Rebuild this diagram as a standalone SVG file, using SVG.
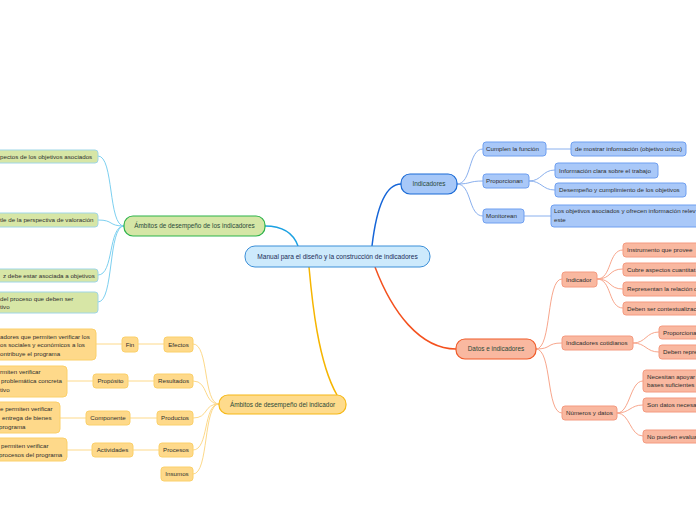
<svg xmlns="http://www.w3.org/2000/svg" width="696" height="520" viewBox="0 0 696 520">
<style>
text{font-family:"Liberation Sans",Arial,sans-serif;font-size:6.2px;fill:#2e2e2e}
.main{font-size:6.4px;fill:#2b4a3a}
.ctr{font-size:6.6px;fill:#1c2c58}
.c path{fill:none}
.cb{stroke:#1565d8;stroke-width:1.5}
.cs{stroke:#1ba1e2;stroke-width:1.5}
.co{stroke:#f6b500;stroke-width:1.5}
.cr{stroke:#f4511e;stroke-width:1.5}
.lb{stroke:#8ab0ee;stroke-width:1}
.ls{stroke:#7dd0f0;stroke-width:1}
.lo{stroke:#fdd98a;stroke-width:1}
.lr{stroke:#f8a68c;stroke-width:1}
.nb{fill:#a9c8f8;stroke:#6f9ff0;stroke-width:1}
.ng{fill:#d7e6a6;stroke:#9fd6e6;stroke-width:1}
.no{fill:#fed98a;stroke:#fbd06a;stroke-width:1}
.nr{fill:#f9b8a0;stroke:#f49a80;stroke-width:1}
</style>
<rect width="696" height="520" fill="#ffffff"/>
<g class="c" id="connectors">
<path class="cs" d="M298,246 C293,232 282,226 265,226"/>
<path class="cb" d="M372,246 C376,212 384,184 401,184"/>
<path class="cr" d="M375,267 C392,312 420,349 456,349"/>
<path class="co" d="M309,267 C312,300 318,362 337,395"/>
<path class="lb" d="M457,184 C472,184 468,149 483,149"/>
<path class="lb" d="M457,184 C472,184 468,181 483,181"/>
<path class="lb" d="M457,184 C472,184 468,216 483,216"/>
<path class="lb" d="M546,149 L571,149"/>
<path class="lb" d="M529,181 C542,181 542,170 555,170"/>
<path class="lb" d="M529,181 C542,181 542,190 555,190"/>
<path class="lb" d="M524,216 L551,216"/>
<path class="lr" d="M536,349 C552,349 546,279 562,279"/>
<path class="lr" d="M536,349 C552,349 546,343 562,343"/>
<path class="lr" d="M536,349 C552,349 546,413 562,413"/>
<path class="lr" d="M597,279 C612,279 608,250 623,250"/>
<path class="lr" d="M597,279 C612,279 608,269 623,269"/>
<path class="lr" d="M597,279 C612,279 608,289 623,289"/>
<path class="lr" d="M597,279 C612,279 608,308 623,308"/>
<path class="lr" d="M633,343 C646,343 646,332 659,332"/>
<path class="lr" d="M633,343 C646,343 646,352 659,352"/>
<path class="lr" d="M617,413 C630,413 630,381 643,381"/>
<path class="lr" d="M617,413 C630,413 630,405 643,405"/>
<path class="lr" d="M617,413 C630,413 630,436 643,436"/>
<path class="ls" d="M124,226 C108,226 114,156 98,156"/>
<path class="ls" d="M124,226 C108,226 114,220 98,220"/>
<path class="ls" d="M124,226 C108,226 114,275 98,275"/>
<path class="ls" d="M124,226 C108,226 114,302 98,302"/>
<path class="lo" d="M219,404 C203,404 209,344 193,344"/>
<path class="lo" d="M219,404 C203,404 209,381 193,381"/>
<path class="lo" d="M219,404 C203,404 209,418 193,418"/>
<path class="lo" d="M219,404 C203,404 209,450 193,450"/>
<path class="lo" d="M219,404 C203,404 209,474 193,474"/>
<path class="lo" d="M164,344 L138,344"/>
<path class="lo" d="M122,344 L96,344"/>
<path class="lo" d="M154,381 L128,381"/>
<path class="lo" d="M93,381 L67,381"/>
<path class="lo" d="M157,418 L130,418"/>
<path class="lo" d="M86,418 L60,418"/>
<path class="lo" d="M159,450 L133,450"/>
<path class="lo" d="M92,450 L67,450"/>
</g>
<g id="central">
<rect x="245" y="246" width="185" height="21" rx="10" fill="#cdeafc" stroke="#3b8fd8" stroke-width="1"/>
<text class="ctr" x="337.5" y="258.8" text-anchor="middle">Manual para el diseño y la construcción de indicadores</text>
</g>
<g id="n-indicadores">
<rect x="401" y="174" width="56" height="20" rx="9" fill="#a7c8f8" stroke="#1a6ad6" stroke-width="1.2"/>
<text class="main" x="429" y="186.3" text-anchor="middle">Indicadores</text>
</g>
<g id="n-cumplen"><rect class="nb" x="483" y="142" width="63" height="14" rx="3"/><text x="486" y="151.2">Cumplen la función</text></g>
<g id="n-mostrar"><rect class="nb" x="571" y="142" width="115" height="14" rx="3"/><text x="575" y="151.2">de mostrar información (objetivo único)</text></g>
<g id="n-proporcionan"><rect class="nb" x="483" y="174" width="46" height="14" rx="3"/><text x="486" y="183.2">Proporcionan</text></g>
<g id="n-infoclara"><rect class="nb" x="555" y="163" width="103" height="15" rx="3"/><text x="559" y="172.6">Información clara sobre el trabajo</text></g>
<g id="n-desempeno"><rect class="nb" x="555" y="183" width="131" height="14" rx="3"/><text x="559" y="192.2">Desempeño y cumplimiento de los objetivos</text></g>
<g id="n-monitorean"><rect class="nb" x="483" y="209" width="41" height="14" rx="3"/><text x="486" y="218.2">Monitorean</text></g>
<g id="n-losobj"><rect class="nb" x="551" y="205" width="160" height="22" rx="3"/><text x="554" y="213.2">Los objetivos asociados y ofrecen información relev</text><text x="554" y="221.6">este</text></g>
<g id="n-datos">
<rect x="456" y="339" width="80" height="20" rx="9" fill="#f9b8a0" stroke="#f05a28" stroke-width="1.2"/>
<text class="main" x="496" y="351.3" text-anchor="middle">Datos e indicadores</text>
</g>
<g id="n-indicador"><rect class="nr" x="562" y="272" width="35" height="15" rx="3"/><text x="566" y="281.6">Indicador</text></g>
<g id="n-instrumento"><rect class="nr" x="623" y="243" width="90" height="14" rx="3"/><text x="627" y="252.2">Instrumento que provee</text></g>
<g id="n-cubre"><rect class="nr" x="623" y="263" width="90" height="13" rx="3"/><text x="627" y="271.7">Cubre aspectos cuantitat</text></g>
<g id="n-representan"><rect class="nr" x="623" y="282" width="90" height="14" rx="3"/><text x="627" y="291.2">Representan la relación d</text></g>
<g id="n-deben"><rect class="nr" x="623" y="302" width="90" height="13" rx="3"/><text x="627" y="310.7">Deben ser contextualizac</text></g>
<g id="n-cotidianos"><rect class="nr" x="562" y="336" width="71" height="14" rx="3"/><text x="566" y="345.2">Indicadores cotidianos</text></g>
<g id="n-proporciona"><rect class="nr" x="659" y="326" width="60" height="13" rx="3"/><text x="663" y="334.7">Proporciona</text></g>
<g id="n-debenrep"><rect class="nr" x="659" y="345" width="60" height="14" rx="3"/><text x="663" y="354.2">Deben repre</text></g>
<g id="n-numeros"><rect class="nr" x="562" y="406" width="55" height="14" rx="3"/><text x="566" y="415.2">Números y datos</text></g>
<g id="n-necesitan"><rect class="nr" x="643" y="370" width="70" height="22" rx="3"/><text x="647" y="378.8">Necesitan apoyar</text><text x="647" y="387.4">bases suficientes</text></g>
<g id="n-sondatos"><rect class="nr" x="643" y="398" width="70" height="14" rx="3"/><text x="647" y="407.2">Son datos necesar</text></g>
<g id="n-nopueden"><rect class="nr" x="643" y="430" width="70" height="13" rx="3"/><text x="647" y="438.7">No pueden evalua</text></g>
<g id="n-ambitos-ind">
<rect x="124" y="216" width="141" height="20" rx="9" fill="#d5e6a6" stroke="#2db34a" stroke-width="1.2"/>
<text class="main" x="194.5" y="228.3" text-anchor="middle">Ámbitos de desempeño de los indicadores</text>
</g>
<g id="n-g1"><rect class="ng" x="-20" y="150" width="118" height="13" rx="3"/><text x="0" y="158.7">pectos de los objetivos asociados</text></g>
<g id="n-g2"><rect class="ng" x="-20" y="213" width="118" height="14" rx="3"/><text x="0" y="222.2">tle de la perspectiva de valoración</text></g>
<g id="n-g3"><rect class="ng" x="-20" y="269" width="118" height="13" rx="3"/><text x="3" y="277.7">z debe estar asociada a objetivos</text></g>
<g id="n-g4"><rect class="ng" x="-20" y="292" width="118" height="21" rx="3"/><text x="0" y="300.6">del proceso que deben ser</text><text x="0" y="309.2">tivo</text></g>
<g id="n-ambitos-del">
<rect x="219" y="395" width="127" height="19" rx="9" fill="#fedb8c" stroke="#f6b816" stroke-width="1.2"/>
<text class="main" x="282.5" y="406.8" text-anchor="middle">Ámbitos de desempeño del indicador</text>
</g>
<g id="n-efectos"><rect class="no" x="164" y="337" width="29" height="15" rx="3"/><text x="178.5" y="346.6" text-anchor="middle">Efectos</text></g>
<g id="n-resultados"><rect class="no" x="154" y="374" width="39" height="14" rx="3"/><text x="173.5" y="383.2" text-anchor="middle">Resultados</text></g>
<g id="n-productos"><rect class="no" x="157" y="411" width="36" height="14" rx="3"/><text x="175" y="420.2" text-anchor="middle">Productos</text></g>
<g id="n-procesos"><rect class="no" x="159" y="443" width="34" height="14" rx="3"/><text x="176" y="452.2" text-anchor="middle">Procesos</text></g>
<g id="n-insumos"><rect class="no" x="161" y="467" width="32" height="14" rx="3"/><text x="177" y="476.2" text-anchor="middle">Insumos</text></g>
<g id="n-fin"><rect class="no" x="122" y="337" width="16" height="15" rx="3"/><text x="130" y="346.6" text-anchor="middle">Fin</text></g>
<g id="n-proposito"><rect class="no" x="93" y="374" width="35" height="14" rx="3"/><text x="110.5" y="383.2" text-anchor="middle">Propósito</text></g>
<g id="n-componente"><rect class="no" x="86" y="411" width="44" height="14" rx="3"/><text x="108" y="420.2" text-anchor="middle">Componente</text></g>
<g id="n-actividades"><rect class="no" x="92" y="443" width="41" height="14" rx="3"/><text x="112.5" y="452.2" text-anchor="middle">Actividades</text></g>
<g id="n-l1"><rect class="no" x="-20" y="329" width="116" height="31" rx="4"/><text x="0" y="338.5">adores que permiten verificar los</text><text x="0" y="347">os sociales y económicos a los</text><text x="0" y="355.5">ontribuye el programa</text></g>
<g id="n-l2"><rect class="no" x="-20" y="366" width="87" height="31" rx="4"/><text x="0" y="374">rmiten verificar</text><text x="1" y="383">problemática concreta</text><text x="0" y="392">tivo</text></g>
<g id="n-l3"><rect class="no" x="-20" y="402" width="80" height="31" rx="4"/><text x="0" y="411">e permiten verificar</text><text x="2" y="420">entrega de bienes</text><text x="-1" y="429">programa</text></g>
<g id="n-l4"><rect class="no" x="-20" y="438" width="87" height="23" rx="4"/><text x="1" y="447.5">permiten verificar</text><text x="-1" y="456.5">procesos del programa</text></g>
</svg>
